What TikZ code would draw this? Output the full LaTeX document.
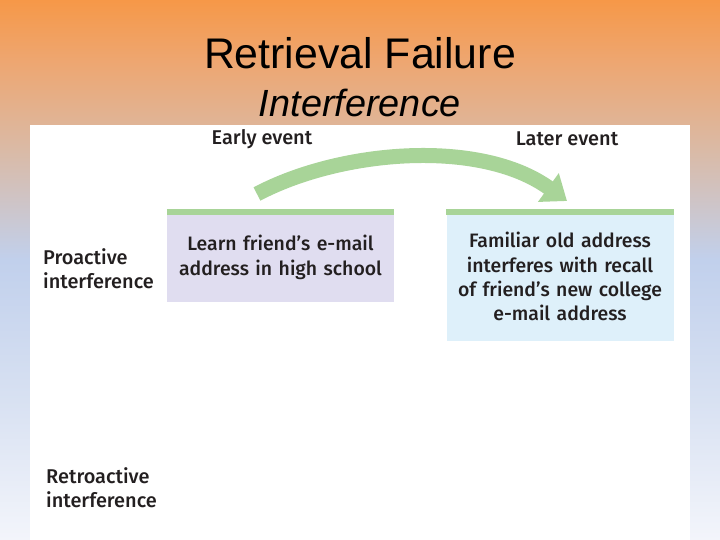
\documentclass[tikz,border=0pt]{standalone}
\usepackage{fontspec}
\setmainfont{Liberation Sans}
\newfontfamily\bookfont{Fira Sans Medium}
\usetikzlibrary{arrows.meta}

\definecolor{bgorange}{RGB}{246,152,72}
\definecolor{bgpeach}{RGB}{238,166,112}
\definecolor{bgtan}{RGB}{218,186,166}
\definecolor{bgblue}{RGB}{193,208,236}
\definecolor{bgpale}{RGB}{216,225,242}
\definecolor{bgwhite}{RGB}{243,245,251}
\definecolor{eventgreen}{RGB}{168,212,152}
\definecolor{earlyfill}{RGB}{224,221,240}
\definecolor{laterfill}{RGB}{222,240,250}
\definecolor{booktext}{RGB}{35,31,32}

\pgfdeclareverticalshading{slidebg}{100bp}{%
  color(0bp)=(bgwhite); color(25bp)=(bgwhite); color(37.96bp)=(bgpale);
  color(50.93bp)=(bgblue); color(61.11bp)=(bgtan); color(69.44bp)=(bgpeach);
  color(75bp)=(bgorange); color(100bp)=(bgorange)}

\tikzset{
  rowlabel/.style={anchor=west, align=left, text=booktext,
    font=\bookfont\fontsize{20}{24}\selectfont, inner sep=0pt},
  eventlabel/.style={text=booktext, font=\bookfont\fontsize{20}{24}\selectfont, inner sep=0pt},
  eventbox/.style={anchor=north, text width=227bp, align=center, inner xsep=0pt,
    text=booktext, font=\bookfont\fontsize{19.5}{24.5}\selectfont},
  greenbar/.style={draw=eventgreen, line width=6bp}
}

\begin{document}
\begin{tikzpicture}[x=1bp,y=-1bp]
        \useasboundingbox (0,0) rectangle (720,540);
        % slide background and white panel
        \shade[shading=slidebg] (0,0) rectangle (720,540);
        \fill[white] (30,125) rectangle (690,540);
        % titles
        \node (title) at (360,53) {\fontsize{43}{50}\selectfont Retrieval Failure};
        \node (subtitle) at (360,103) {\fontsize{38}{44}\selectfont\itshape Interference};
        % column heads
        \node[eventlabel] (earlyhead) at (262,139) {Early event};
        \node[eventlabel] (laterhead) at (567,139) {Later event};
        % row heads
        \node[rowlabel] (proactive) at (43,269) {Proactive\\interference};
        \node[rowlabel] (retroactive) at (46,488) {Retroactive\\interference};
        % event boxes
        \node[eventbox, fill=earlyfill, minimum height=90bp] (early) at (280.5,212)
            {Learn friend’s e-mail\\address in high school};
        \node[eventbox, fill=laterfill, minimum height=129bp] (later) at (560,212)
            {Familiar old address\\interferes with recall\\of friend’s new college\\e-mail address};
        \draw[greenbar] (early.north west) -- (early.north east);
        \draw[greenbar] (later.north west) -- (later.north east);
        % curved arrow
        \coordinate (arrowfrom) at (257,194);
        \coordinate (arrowto) at (567,201);
        \draw[eventgreen, line width=15bp, -{Triangle[width=34bp,length=23bp]}]
            (arrowfrom) .. controls (340,150) and (480,138) .. (arrowto);
    \end{tikzpicture}
\end{document}
